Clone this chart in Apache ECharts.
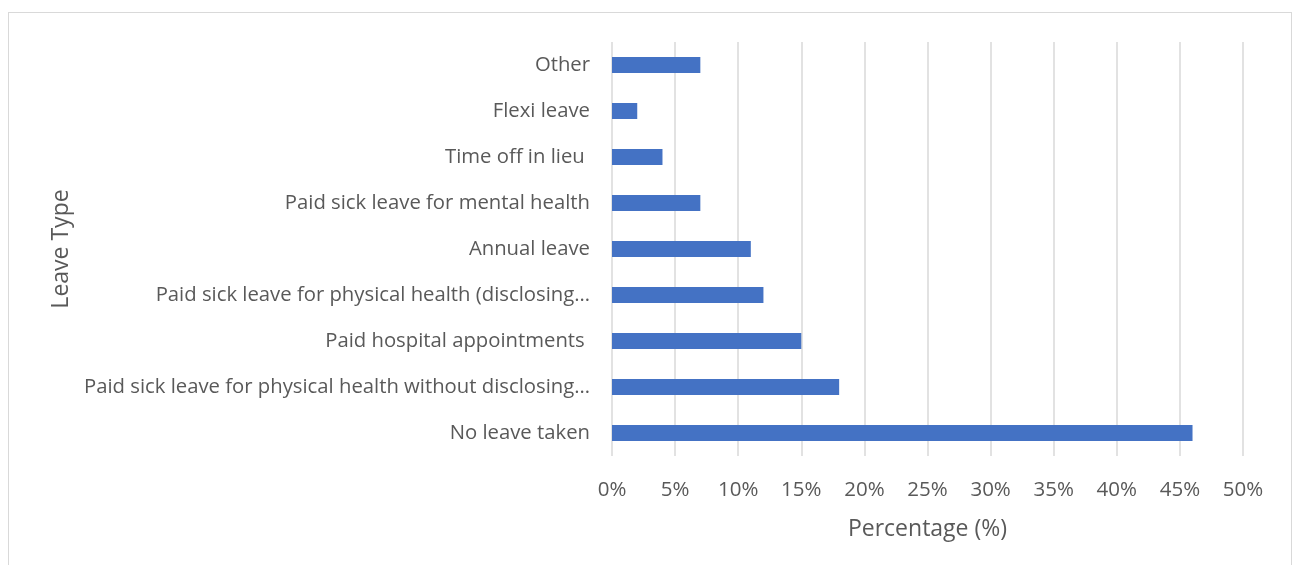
<!DOCTYPE html>
<html>
<head>
<meta charset="utf-8">
<script src="https://cdn.jsdelivr.net/npm/echarts@6/dist/echarts.min.js"></script>
<style>
  html, body { margin: 0; padding: 0; background: #fff; }
  #frame { position: absolute; left: 8px; top: 12px; width: 1284px; height: 560px; border: 1px solid #d9d9d9; border-bottom: none; box-sizing: border-box; }
  #chart { position: absolute; left: 0; top: 0; width: 1296px; height: 565px; }
</style>
</head>
<body>
<div id="frame"></div>
<div id="chart"></div>
<script>
// Leave types, listed bottom to top as drawn on the category axis
const categories = [
  'No leave taken',
  'Paid sick leave for physical health without disclosing…',
  'Paid hospital appointments ',
  'Paid sick leave for physical health (disclosing…',
  'Annual leave',
  'Paid sick leave for mental health',
  'Time off in lieu ',
  'Flexi leave',
  'Other'
];
// Share of respondents (%) per leave type
const percentages = [46, 18, 15, 12, 11, 7, 4, 2, 7];
// Percentage axis ticks
const axisMin = 0;
const axisMax = 50;
const axisStep = 5;

const chart = echarts.init(document.getElementById('chart'), null, { renderer: 'canvas' });
const font = '"Open Sans", sans-serif';
chart.setOption({
  animation: false,
  grid: { left: 612, right: 53, top: 42, bottom: 109, containLabel: false },
  xAxis: {
    type: 'value',
    min: axisMin, max: axisMax, interval: axisStep,
    name: 'Percentage (%)',
    nameLocation: 'middle',
    nameGap: 62,
    nameTextStyle: { color: '#595959', fontSize: 23, fontFamily: font },
    axisLine: { show: false },
    axisTick: { show: false },
    axisLabel: { color: '#595959', fontSize: 20.5, fontFamily: font, margin: 24, formatter: v => v + '%' },
    splitLine: { show: true, lineStyle: { color: '#d9d9d9', width: 1.5 } }
  },
  yAxis: {
    type: 'category',
    data: categories,
    name: 'Leave Type',
    nameLocation: 'middle',
    nameGap: 539,
    nameRotate: 90,
    nameTextStyle: { color: '#595959', fontSize: 23, fontFamily: font },
    axisLine: { show: false },
    axisTick: { show: false },
    axisLabel: { color: '#595959', fontSize: 20.3, fontFamily: font, margin: 22 }
  },
  series: [{
    type: 'bar',
    data: percentages,
    barWidth: 16,
    itemStyle: { color: '#4472c4' }
  }]
});
</script>
</body>
</html>
